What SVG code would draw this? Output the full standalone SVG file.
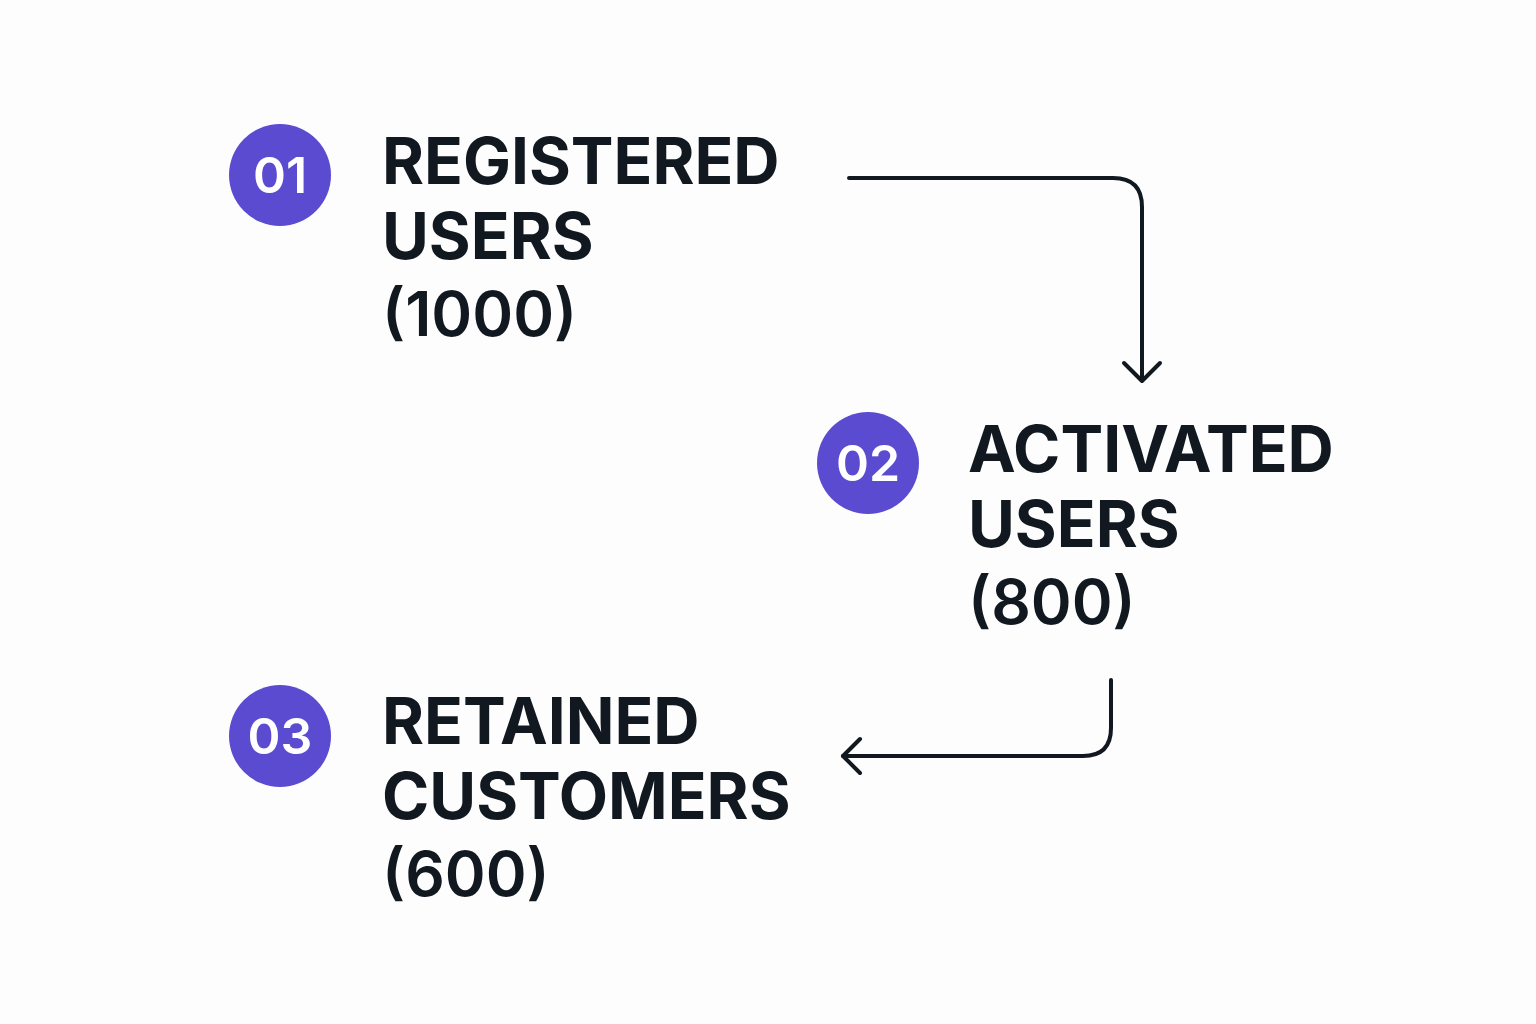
<svg xmlns="http://www.w3.org/2000/svg" width="1536" height="1024" viewBox="0 0 1536 1024">
<style>
.c{fill:#5b4bd0}
.n{fill:#fff;font-family:Inter,"Liberation Sans",sans-serif;font-weight:600;font-size:50px;text-anchor:middle}
.t{fill:#111820;font-family:Inter,"Liberation Sans",sans-serif;font-weight:700;font-size:64px}
.v{fill:#111820;font-family:Inter,"Liberation Sans",sans-serif;font-weight:600;font-size:62px}
.e{fill:none;stroke:#111820;stroke-width:4;stroke-linecap:round;stroke-linejoin:round}
</style>
<rect width="1536" height="1024" fill="#fdfdfd"/>
<g id="node1">
<circle class="c" cx="280" cy="175" r="51"/><text class="n" x="280" y="193">01</text>
<text class="t" x="382" y="184">REGISTERED</text>
<text class="t" x="382" y="259">USERS</text>
<text class="v" x="382" y="336">(1000)</text>
</g>
<g id="node2">
<circle class="c" cx="868" cy="463" r="51"/><text class="n" x="868" y="481">02</text>
<text class="t" x="968" y="472">ACTIVATED</text>
<text class="t" x="968" y="547">USERS</text>
<text class="v" x="968" y="624">(800)</text>
</g>
<g id="node3">
<circle class="c" cx="280" cy="736" r="51"/><text class="n" x="280" y="754">03</text>
<text class="t" x="382" y="744">RETAINED</text>
<text class="t" x="382" y="819">CUSTOMERS</text>
<text class="v" x="382" y="896">(600)</text>
</g>
<g id="connectors">
<path class="e" d="M849,178 H1113 Q1142,178 1142,207 V380"/>
<path class="e" d="M1124,363 L1142,381 L1160,363"/>
<path class="e" d="M1111,680 V728 Q1111,756 1083,756 H843"/>
<path class="e" d="M860,739 L843,756 L860,773"/>
</g>
</svg>
